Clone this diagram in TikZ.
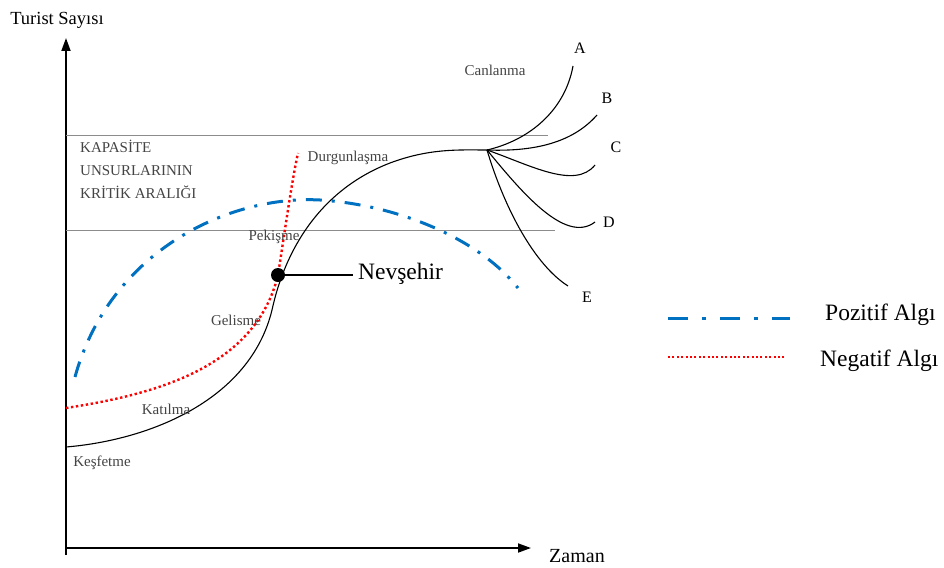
\documentclass[tikz,border=0pt]{standalone}
\usepackage{fontspec}
\setmainfont{Liberation Serif}
\usetikzlibrary{arrows.meta}
\definecolor{tlcblue}{HTML}{0070C0}
\definecolor{tlcred}{HTML}{FF0000}
\definecolor{tlcgray}{HTML}{444444}
\definecolor{tlcline}{HTML}{8C8C8C}

\begin{document}
\begin{tikzpicture}[
  x=1pt,y=-1pt,
  axis/.style={-{Triangle[length=13pt,width=9pt]},line width=1.8pt},
  band/.style={tlcline,line width=1pt},
  life/.style={line width=1.1pt},
  posline/.style={tlcblue,line width=3pt,dash pattern=on 16pt off 10pt on 3pt off 10pt},
  negline/.style={tlcred,line width=2.4pt,dash pattern=on 2.4pt off 2.6pt},
  stage/.style={tlcgray,font=\fontsize{15}{17}\selectfont,inner sep=1pt},
  branch/.style={font=\fontsize{16}{18}\selectfont,inner sep=1pt},
  big/.style={font=\fontsize{23.5}{25}\selectfont,inner sep=1pt}
]
\useasboundingbox (0,0) rectangle (944,567);
% eksenler
\coordinate (o) at (66,548);
\coordinate (ytop) at (66,38);
\coordinate (xend) at (531,548);
\draw[axis] (66,555) -- (ytop);
\draw[axis] (o) -- (xend);
\node[big,font=\fontsize{18.5}{20}\selectfont] (ylab) at (57,20) {Turist Sayısı};
\node[big,font=\fontsize{20}{22}\selectfont] (xlab) at (577,556) {Zaman};
% kapasite bandi
\draw[band] (66,135) -- (548,135);
\draw[band] (66,230) -- (555,230);
\node[stage,anchor=north west,align=left,font=\fontsize{15}{23}\selectfont] (kap) at (79,139) {KAPASİTE\\UNSURLARININ\\KRİTİK ARALIĞI};
% pozitif algi
\draw[posline] (75,377) .. controls (110,250) and (230,195) .. (320,200)
  .. controls (400,205) and (480,240) .. (518,288);
% yasam egrisi
\coordinate (start) at (66,447);
\coordinate (nev) at (278,275);
\coordinate (hub) at (487,150);
\draw[life] (start) .. controls (150,440) and (250,400) .. (272,310)
  .. controls (285,250) and (320,190) .. (390,163)
  .. controls (430,148) and (460,150) .. (hub);
% negatif algi
\draw[negline] (66,408) .. controls (150,395) and (255,370) .. (nev)
  .. controls (285,230) and (292,180) .. (298,153);
% dallar
\coordinate (ea) at (573,66);
\coordinate (eb) at (597,115);
\coordinate (ec) at (595,165);
\coordinate (ed) at (595,222);
\coordinate (ee) at (568,286);
\draw[life] (hub) .. controls (530,140) and (565,110) .. (ea);
\draw[life] (hub) .. controls (540,152) and (575,140) .. (eb);
\draw[life] (hub) .. controls (530,165) and (575,190) .. (ec);
\draw[life] (hub) .. controls (520,190) and (565,245) .. (ed);
\draw[life] (hub) .. controls (505,210) and (535,265) .. (ee);
\node[branch] (la) at (580,48) {A};
\node[branch] (lb) at (607,98) {B};
\node[branch] (lc) at (616,147) {C};
\node[branch] (ld) at (609,222) {D};
\node[branch] (le) at (587,297) {E};
% evreler
\node[stage] (canlanma) at (495,70) {Canlanma};
\node[stage] (durgun) at (348,158) {Durgunlaşma};
\node[stage] (pekisme) at (274,237) {Pekişme};
\node[stage] (gelisme) at (236,320) {Gelisme};
\node[stage] (katilma) at (166,409) {Katılma};
\node[stage] (kesfetme) at (102,463) {Keşfetme};
% nevsehir
\fill (nev) circle (7);
\coordinate (nevend) at (353,275);
\draw[line width=2.2pt] (nev) -- (nevend);
\node[big,anchor=west] (nevlab) at (357,274) {Nevşehir};
% lejant
\coordinate (p1) at (668,318);
\coordinate (p2) at (790,318);
\coordinate (n1) at (668,357);
\coordinate (n2) at (786,357);
\draw[posline,dash pattern=on 20pt off 14pt on 4pt off 14pt] (p1) -- (p2);
\draw[negline,line width=1.8pt,dash pattern=on 2pt off 2.4pt] (n1) -- (n2);
\node[big,anchor=west] (poslab) at (824,315) {Pozitif Algı};
\node[big,anchor=west] (neglab) at (819,361) {Negatif Algı};
\end{tikzpicture}
\end{document}
